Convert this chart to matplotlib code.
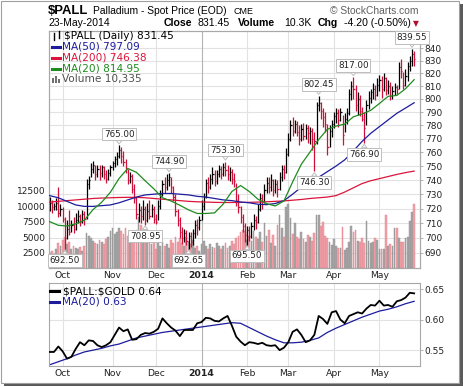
import numpy as np
import matplotlib
matplotlib.use("Agg")
import matplotlib.pyplot as plt
from matplotlib.patches import Rectangle
from matplotlib.lines import Line2D
from matplotlib.ticker import FixedLocator, NullLocator, FuncFormatter
from matplotlib.transforms import blended_transform_factory

W, H = 464, 387

###..... data (bar 0 = 23-Sep-2013, last bar = 23-May-2014)
month_pos = [6, 29, 49, 70, 91, 110, 131, 152]
month_lab = ['Oct', 'Nov', 'Dec', '2014', 'Feb', 'Mar', 'Apr', 'May']

close = [
    724, 721, 722, 724, 717, 720, 713, 700, 706, 704,
    709, 706, 712, 715, 711, 716, 713, 737, 740, 748,
    751, 744, 748, 745, 749, 744, 741, 745, 749, 752,
    755, 757, 762, 757, 753, 748, 740, 743, 734, 727,
    716, 719, 715, 720, 712, 718, 715, 720, 713, 711,
    722, 730, 737, 735, 740, 742, 735, 728, 718, 712,
    704, 700, 703, 698, 701, 697, 703, 709, 707, 712,
    722, 728, 738, 735, 741, 744, 739, 744, 748, 744,
    749, 747, 744, 746, 741, 739, 726, 721, 714, 708,
    702, 705, 701, 708, 712, 711, 720, 727, 725, 733,
    738, 735, 740, 733, 737, 734, 742, 748, 746, 759,
    770, 780, 776, 781, 775, 770, 777, 772, 778, 774,
    776, 770, 768, 795, 797, 791, 786, 781, 764, 776,
    781, 787, 789, 784, 790, 773, 785, 789, 804, 810,
    808, 795, 800, 791, 785, 778, 795, 801, 805, 808,
    803, 811, 815, 808, 816, 807, 810, 802, 806, 809,
    808, 825, 822, 811, 818, 826, 830, 835.65, 831.45]

high = [
    728, 726, 724, 727, 735, 723, 721, 714, 712, 719,
    712, 714, 717, 719, 716, 719, 718, 741, 743, 752,
    754, 751, 751, 751, 751, 750, 747, 748, 751, 754,
    757, 760, 765.00, 764, 761, 755, 748, 746, 744, 737,
    728, 724, 722, 726, 722, 724, 726, 723, 722, 716,
    726, 733, 740, 742, 744, 744.90, 742, 736, 730, 720,
    714, 707, 706, 705, 704, 704, 706, 712, 713, 715,
    726, 731, 741, 742, 744, 749, 747, 747, 751, 750,
    752, 753.30, 751, 749, 748, 745, 738, 730, 722, 716,
    710, 708, 708, 711, 716, 715, 723, 731, 730, 737,
    742, 742, 744, 741, 741, 740, 746, 751, 751, 763,
    774, 784, 786, 784, 783, 780, 781, 782, 781, 780,
    779, 778, 775, 798, 802.45, 798, 793, 790, 781, 780,
    784, 790, 793, 792, 793, 788, 789, 793, 808, 814,
    817.00, 811, 805, 803, 794, 790, 799, 806, 808, 812,
    811, 816, 819, 818, 820, 817, 815, 813, 810, 812,
    811, 829, 831, 821, 823, 829, 834, 839.55, 838]

low = [
    718, 717, 719, 719, 714, 715, 711, 692.50, 699, 702,
    704, 703, 705, 710, 708, 710, 709, 713, 734, 742,
    745, 740, 742, 740, 742, 741, 738, 740, 743, 747,
    749, 751, 756, 752, 750, 745, 737, 738, 731, 724,
    713, 711, 710, 712, 708.95, 711, 713, 714, 710, 709.5,
    712, 720, 729, 731, 733, 736, 731, 725, 715, 708,
    700, 696, 697, 695, 692.65, 694, 695, 700, 702, 705,
    712, 719, 727, 731, 734, 737, 736, 737, 742, 741,
    743, 743, 740, 739, 737, 735, 722, 717, 710, 704,
    697, 695.50, 698, 700, 705, 706, 710, 718, 720, 724,
    731, 731, 732, 729, 731, 728, 733, 739, 741, 745,
    757, 768, 772, 774, 772, 765, 768, 769, 770, 767,
    766, 762, 746.30, 766, 791, 785, 779, 775, 758, 764,
    771, 778, 782, 779, 783, 765, 775, 781, 788, 799,
    800, 791, 788, 787, 783, 766.90, 780, 792, 797, 800,
    799, 802, 806, 801, 806, 803, 804, 799, 800, 803,
    804, 808, 816, 808, 810, 814, 822, 826, 826]

# volume in thousands
volume = [
    2.5, 2.8, 2.3, 3.0, 4.0, 3.5, 4.5, 5.0, 3.8, 4.2,
    3.0, 3.5, 3.2, 3.0, 3.4, 2.8, 3.6, 5.6, 5.2, 4.8,
    4.4, 4.0, 3.8, 4.5, 4.2, 3.9, 4.6, 5.0, 6.0, 6.4,
    5.5, 5.8, 6.4, 6.0, 5.5, 6.4, 5.2, 4.8, 5.8, 5.0,
    6.2, 8.2, 7.0, 5.5, 6.5, 4.8, 5.0, 3.8, 4.5, 3.0,
    4.0, 3.6, 4.2, 3.5, 3.8, 3.2, 4.5, 4.0, 5.0, 4.2,
    4.8, 4.0, 3.5, 5.0, 4.2, 3.8, 4.5, 3.2, 3.6, 2.8,
    3.8, 4.4, 3.6, 3.0, 3.8, 3.4, 3.2, 4.0, 3.6, 3.0,
    3.5, 4.0, 3.2, 3.6, 4.4, 3.8, 4.8, 5.2, 5.8, 6.2,
    6.0, 4.5, 5.2, 4.4, 6.0, 5.0, 4.6, 5.8, 4.2, 7.2,
    5.2, 6.2, 4.0, 5.4, 3.6, 7.0, 8.5, 6.4, 5.0, 9.9,
    10.4, 8.0, 5.5, 7.2, 5.0, 4.6, 5.8, 4.6, 4.2, 5.3,
    5.0, 4.3, 5.6, 8.5, 8.5, 6.8, 7.4, 5.2, 4.8, 4.2,
    3.7, 4.7, 3.5, 3.2, 3.3, 6.6, 2.9, 3.3, 4.2, 6.8,
    5.8, 6.2, 4.4, 4.2, 4.8, 4.0, 7.6, 4.4, 4.0, 4.2,
    4.8, 4.5, 3.0, 3.0, 3.0, 8.5, 3.5, 3.8, 3.6, 6.4,
    6.4, 4.8, 4.2, 4.2, 4.8, 5.0, 7.6, 9.1, 10.335]

# moving averages, one value every 4 bars
ma_step = 4
ma20 = [711, 708.5, 708, 709.5, 712, 719.3, 724.4, 731.4, 741.1, 748.3,
        745.5, 739.5, 733.8, 727.5, 725.2, 722.3, 719.1, 716.6, 716.6, 717,
        723.1, 731.9, 736.1, 731.9, 726.5, 723.4, 721.8, 725.3, 738.7, 751.3,
        760.2, 769.4, 777, 779.4, 780.9, 786.4, 788.5, 791.3, 796.5, 802,
        802.7, 807.9, 814.95]
ma50 = [729, 727.5, 725, 722.5, 721.5, 721.5, 722, 722.5, 724, 726,
        728, 729.5, 730, 730.5, 730.5, 730, 729.5, 728.5, 728, 727,
        726, 725.5, 724.5, 724, 723, 722.7, 723.5, 725.5, 730, 735,
        738, 742, 746, 750, 754.5, 761, 768, 774, 779, 784,
        789, 793, 797.09]
ma200 = [724.5, 725, 725.5, 726, 726.5, 727, 727.3, 727.5, 727.7, 727.8,
         727.8, 727.5, 727, 726.5, 726, 725.5, 725, 724.7, 724.5, 724.3,
         724.2, 724.2, 724.3, 724.3, 724.5, 724.7, 725, 725.3, 725.8, 726.3,
         727, 727.5, 728, 729, 731.5, 734.5, 737.5, 739.5, 741, 742.5,
         744, 745.3, 746.38]

hi_lab = [32, 55, 81, 124, 140, 167]
lo_lab = [7, 44, 64, 91, 122, 145]

# $PALL:$GOLD, one value every 2 bars
ratio_step = 2
ratio = [0.547, 0.547, 0.556, 0.548, 0.536, 0.539, 0.552, 0.563, 0.558, 0.566,
         0.565, 0.558, 0.555, 0.558, 0.563, 0.575, 0.587, 0.581, 0.584, 0.567,
         0.568, 0.575, 0.578, 0.577, 0.580, 0.585, 0.602, 0.594, 0.587, 0.582,
         0.573, 0.583, 0.583, 0.583, 0.594, 0.596, 0.603, 0.602, 0.598, 0.597,
         0.602, 0.606, 0.590, 0.572, 0.564, 0.558, 0.563, 0.562, 0.560, 0.562,
         0.558, 0.557, 0.558, 0.550, 0.554, 0.563, 0.580, 0.584, 0.575, 0.563,
         0.566, 0.575, 0.606, 0.601, 0.593, 0.612, 0.614, 0.600, 0.594, 0.606,
         0.609, 0.612, 0.610, 0.618, 0.624, 0.623, 0.631, 0.623, 0.624, 0.621,
         0.630, 0.632, 0.636, 0.644, 0.643]
ratio_ma = [0.526, 0.531, 0.536, 0.542, 0.547, 0.550, 0.553, 0.557, 0.560, 0.565,
            0.570, 0.573, 0.576, 0.579, 0.581, 0.583, 0.585, 0.587, 0.589, 0.591,
            0.593, 0.595, 0.594, 0.587, 0.580, 0.573, 0.567, 0.562, 0.562, 0.563,
            0.566, 0.570, 0.579, 0.586, 0.592, 0.598, 0.604, 0.609, 0.614, 0.617,
            0.621, 0.626, 0.630]

price_ticks = list(range(690, 841, 10))
vol_ticks = [2500, 5000, 7500, 10000, 12500]
ratio_ticks = [0.55, 0.60, 0.65]

###..... colours
UP, DN = 'black', '#d0103a'
C50, C200, C20 = '#1c1c9c', '#dc143c', '#1e8c1e'
GRID, YEARGRID, SPINE = '#e2e2e2', '#b4b4b4', '#a8a8a8'
TXT = '#222222'


def fx(x):
    return x / W


def fy(y):
    return 1 - y / H


fig = plt.figure(figsize=(W / 100, H / 100), dpi=100)
fig.patch.set_facecolor('white')

# outer frame + drop shadow
fig.add_artist(Rectangle((fx(4), fy(386)), 459 / W, 382 / H, transform=fig.transFigure,
                         fc='#5a5a5a', ec='none', zorder=-10))
fig.add_artist(Rectangle((fx(0.5), fy(382.5)), 459 / W, 382 / H, transform=fig.transFigure,
                         fc='white', ec='#a0a0a0', lw=0.8, zorder=-9))

###..... main panel
axv = fig.add_axes([fx(49), fy(268), (420 - 49) / W, (268 - 31) / H])
ax = axv.twinx()

n = len(close)
x = np.arange(n)
c = np.array(close)
up = np.r_[True, c[1:] >= c[:-1]]
cols = np.where(up, UP, DN)

axv.bar(x, np.array(volume) * 1000, width=0.8,
        color=np.where(up, '#a9a9a9', '#f2a2aa'),
        edgecolor=np.where(up, '#8c8c8c', '#e0808c'), linewidth=0.3, zorder=2)
axv.set_ylim(0, 38226)
axv.set_xlim(-0.3, 170.7)

# gridlines kept underneath the volume bars
tr = blended_transform_factory(axv.transAxes, ax.transData)
for p in price_ticks:
    axv.plot([0, 1], [p, p], transform=tr, color=GRID, lw=0.8, zorder=0)
for m, lab in zip(month_pos, month_lab):
    axv.axvline(m, color=YEARGRID if lab == '2014' else GRID, lw=0.8, zorder=0)

ax.vlines(x, low, high, colors=cols, lw=0.9, zorder=3)
ax.hlines(c, x, x + 0.55, colors=cols, lw=0.9, zorder=3)

mx = np.arange(0, n, ma_step)
ax.plot(mx, ma200, color=C200, lw=0.9, zorder=4)
ax.plot(mx, ma50, color=C50, lw=0.9, zorder=4)
ax.plot(mx, ma20, color=C20, lw=0.9, zorder=4)

box = dict(boxstyle='square,pad=0.2', fc='white', ec='#bdbdbd', lw=0.7)
arw = dict(arrowstyle='wedge,tail_width=0.6,shrink_factor=0.5', fc='white',
           ec='#bdbdbd', lw=0.7, shrinkA=0, shrinkB=1)
for i in hi_lab:
    ax.annotate('%.2f' % high[i], xy=(i, high[i]), xytext=(0, 5), textcoords='offset points',
                ha='center', va='bottom', fontsize=6.3, color=TXT, bbox=box,
                arrowprops=arw, zorder=6, annotation_clip=False)
for i in lo_lab:
    ax.annotate('%.2f' % low[i], xy=(i, low[i]), xytext=(0, -5), textcoords='offset points',
                ha='center', va='top', fontsize=6.3, color=TXT, bbox=box,
                arrowprops=arw, zorder=6, annotation_clip=False)

ax.set_yscale('log')
ax.set_ylim(680, 854)
ax.yaxis.set_major_locator(FixedLocator(price_ticks))
ax.yaxis.set_minor_locator(NullLocator())
ax.yaxis.set_major_formatter(FuncFormatter(lambda v, p: '%d' % round(v)))
ax.tick_params(axis='y', length=2, width=0.6, color=SPINE, pad=1.5, labelsize=6.5, labelcolor=TXT)

axv.set_yticks(vol_ticks)
axv.set_yticklabels([str(v) for v in vol_ticks])
axv.tick_params(axis='y', length=0, pad=2.5, labelsize=6.5, labelcolor=TXT)
axv.set_xticks(month_pos)
axv.set_xticklabels(month_lab)
axv.tick_params(axis='x', length=0, pad=2.5, labelsize=6.7, labelcolor=TXT)
for t in axv.get_xticklabels():
    if t.get_text() == '2014':
        t.set_fontweight('bold')
for a in (ax, axv):
    for s in a.spines.values():
        s.set_color(SPINE)
        s.set_linewidth(0.8)

###..... lower panel: $PALL:$GOLD
axr = fig.add_axes([fx(49), fy(366), (420 - 49) / W, (366 - 283) / H])
axr.set_xlim(-0.3, 170.7)
axr.set_ylim(0.524, 0.660)
for t in ratio_ticks:
    axr.axhline(t, color=GRID, lw=0.8, zorder=0)
for m, lab in zip(month_pos, month_lab):
    axr.axvline(m, color=YEARGRID if lab == '2014' else GRID, lw=0.8, zorder=0)
axr.plot(np.arange(0, n, ratio_step), ratio, color='black', lw=1.3, zorder=3)
axr.plot(np.arange(0, n, ma_step), ratio_ma, color=C50, lw=0.9, zorder=2)
axr.yaxis.tick_right()
axr.set_yticks(ratio_ticks)
axr.set_yticklabels(['%.2f' % t for t in ratio_ticks])
axr.tick_params(axis='y', length=2, width=0.6, color=SPINE, pad=1.5, labelsize=6.5, labelcolor=TXT)
axr.set_xticks(month_pos)
axr.set_xticklabels(month_lab)
axr.tick_params(axis='x', length=0, pad=2.5, labelsize=6.7, labelcolor=TXT)
for t in axr.get_xticklabels():
    if t.get_text() == '2014':
        t.set_fontweight('bold')
for s in axr.spines.values():
    s.set_color(SPINE)
    s.set_linewidth(0.8)

###..... legends drawn in figure pixels
def leg_line(x0, x1, y, color):
    fig.add_artist(Line2D([fx(x0), fx(x1)], [fy(y), fy(y)], color=color, lw=2.2,
                          transform=fig.transFigure, zorder=10))


def leg_text(x0, y, s, color, size=7.6):
    fig.text(fx(x0), fy(y), s, color=color, fontsize=size, va='center', ha='left', zorder=10)


# little OHLC icon
for xx, y0, y1 in [(54, 33, 40), (59, 31, 38)]:
    fig.add_artist(Line2D([fx(xx), fx(xx)], [fy(y0), fy(y1)], color='black', lw=1,
                          transform=fig.transFigure, zorder=10))
leg_text(64, 36, '\\$PALL (Daily) 831.45', 'black')
leg_line(52, 60, 46.5, C50)
leg_text(62, 46.5, 'MA(50) 797.09', C50)
leg_line(52, 60, 57.5, C200)
leg_text(62, 57.5, 'MA(200) 746.38', C200)
leg_line(52, 60, 68.5, C20)
leg_text(62, 68.5, 'MA(20) 814.95', C20)
for xx, hh in [(53, 5), (56, 7), (59, 4)]:
    fig.add_artist(Rectangle((fx(xx - 1), fy(83)), 2 / W, hh / H, transform=fig.transFigure,
                             fc='#707070', ec='none', zorder=10))
leg_text(62, 79, 'Volume 10,335', '#505050')

leg_line(50, 59, 291, 'black')
leg_text(63, 291, '\\$PALL:\\$GOLD 0.64', 'black')
leg_line(50, 59, 302, C50)
leg_text(62, 302, 'MA(20) 0.63', C50)

###..... header
HF = 'Liberation Sans'
fig.text(fx(48), fy(10.5), '\\$PALL', fontsize=9.4, fontweight='bold', family=HF, va='center', color='black')
fig.text(fx(93.5), fy(10.5), 'Palladium - Spot Price (EOD)', fontsize=7.4, family=HF, va='center', color='black')
fig.text(fx(233), fy(11), 'CME', fontsize=6.4, family=HF, va='center', color='black')
fig.text(fx(419), fy(10.5), '\u00a9 StockCharts.com', fontsize=7.4, family=HF, va='center', ha='right', color='#606060')

fig.text(fx(48.5), fy(23.5), '23-May-2014', fontsize=7.5, family=HF, va='center')
for xx, s, bold in [(164, 'Close', True), (197.5, '831.45', False), (237.5, 'Volume', True),
                    (284.5, '10.3K', False), (318, 'Chg', True), (344.5, '-4.20 (-0.50%)', False)]:
    fig.text(fx(xx), fy(23.5), s, fontsize=7.6, family=HF, va='center',
             fontweight='bold' if bold else 'normal')
fig.text(fx(413), fy(24), '\u25bc', fontsize=5.5, color='#b0102e', va='center')

fig.savefig('out.png', dpi=100)
